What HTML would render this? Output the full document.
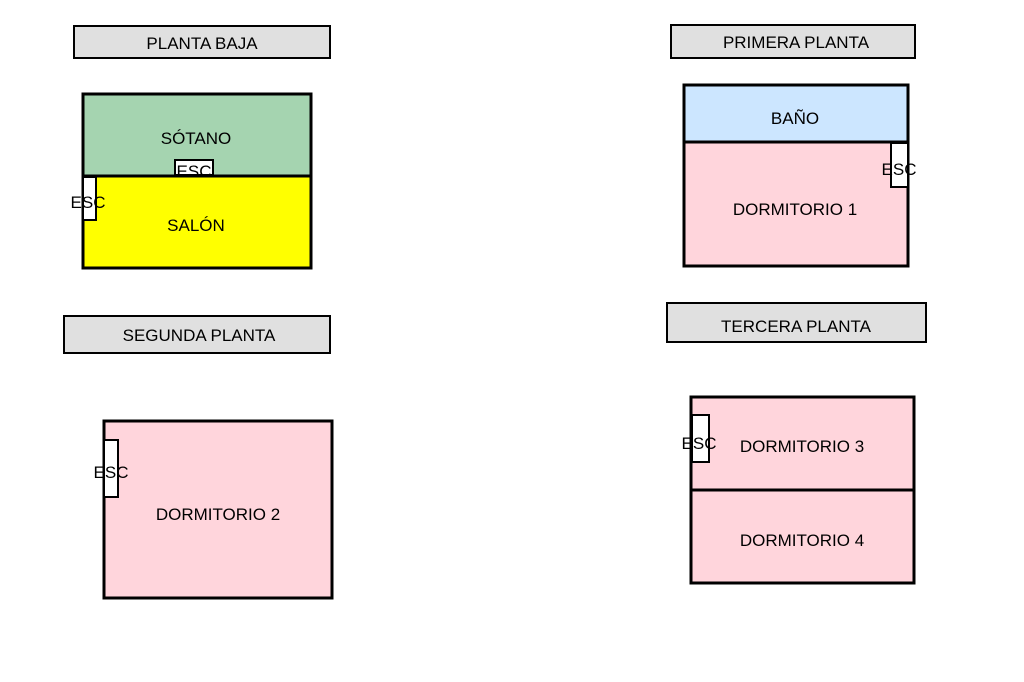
<!DOCTYPE html>
<html><head><meta charset="utf-8"><style>body{margin:0;background:#fff}svg{display:block}text{font-family:"Liberation Sans",Arial,sans-serif;font-size:17px;fill:#000}</style></head>
<body>
<svg width="1024" height="682" viewBox="0 0 1024 682" xmlns="http://www.w3.org/2000/svg">
<defs><clipPath id="c1"><rect x="174" y="159" width="40" height="16"/></clipPath></defs>
<g fill="#e0e0e0" stroke="#000" stroke-width="2">
<rect x="74" y="26" width="256" height="32"/>
<rect x="671" y="25" width="244" height="33"/>
<rect x="64" y="316" width="266" height="37"/>
<rect x="667" y="303" width="259" height="39"/>
</g>
<text x="202" y="49" text-anchor="middle">PLANTA BAJA</text>
<text x="796" y="48" text-anchor="middle">PRIMERA PLANTA</text>
<text x="199" y="341" text-anchor="middle">SEGUNDA PLANTA</text>
<text x="796" y="332" text-anchor="middle">TERCERA PLANTA</text>

<rect x="83" y="94" width="228" height="82" fill="#a5d4b0"/>
<rect x="83" y="176" width="228" height="92" fill="#ffff00"/>
<rect x="83" y="94" width="228" height="174" fill="none" stroke="#000" stroke-width="3"/>
<line x1="83" y1="176" x2="311" y2="176" stroke="#000" stroke-width="3"/>
<text x="196" y="144" text-anchor="middle">SÓTANO</text>
<text x="196" y="231" text-anchor="middle">SALÓN</text>
<rect x="175" y="160" width="38" height="15" fill="#fff" stroke="#000" stroke-width="2"/>
<text x="194" y="177" text-anchor="middle" clip-path="url(#c1)">ESC</text>
<rect x="83" y="177" width="13" height="43" fill="#fff" stroke="#000" stroke-width="2"/>
<text x="88" y="208" text-anchor="middle">ESC</text>

<rect x="684" y="85" width="224" height="57" fill="#cce6ff"/>
<rect x="684" y="142" width="224" height="124" fill="#ffd5dc"/>
<rect x="684" y="85" width="224" height="181" fill="none" stroke="#000" stroke-width="3"/>
<line x1="684" y1="142" x2="908" y2="142" stroke="#000" stroke-width="3"/>
<text x="795" y="124" text-anchor="middle">BAÑO</text>
<text x="795" y="215" text-anchor="middle">DORMITORIO 1</text>
<rect x="891" y="143" width="17" height="44" fill="#fff" stroke="#000" stroke-width="2"/>
<text x="899" y="175" text-anchor="middle">ESC</text>

<rect x="104" y="421" width="228" height="177" fill="#ffd5dc" stroke="#000" stroke-width="3"/>
<text x="218" y="520" text-anchor="middle">DORMITORIO 2</text>
<rect x="104" y="440" width="14" height="57" fill="#fff" stroke="#000" stroke-width="2"/>
<text x="111" y="478" text-anchor="middle">ESC</text>

<rect x="691" y="397" width="223" height="186" fill="#ffd5dc" stroke="#000" stroke-width="3"/>
<line x1="691" y1="490" x2="914" y2="490" stroke="#000" stroke-width="3"/>
<text x="802" y="452" text-anchor="middle">DORMITORIO 3</text>
<text x="802" y="546" text-anchor="middle">DORMITORIO 4</text>
<rect x="692" y="415" width="17" height="47" fill="#fff" stroke="#000" stroke-width="2"/>
<text x="699" y="449" text-anchor="middle">ESC</text>
</svg>
</body></html>
